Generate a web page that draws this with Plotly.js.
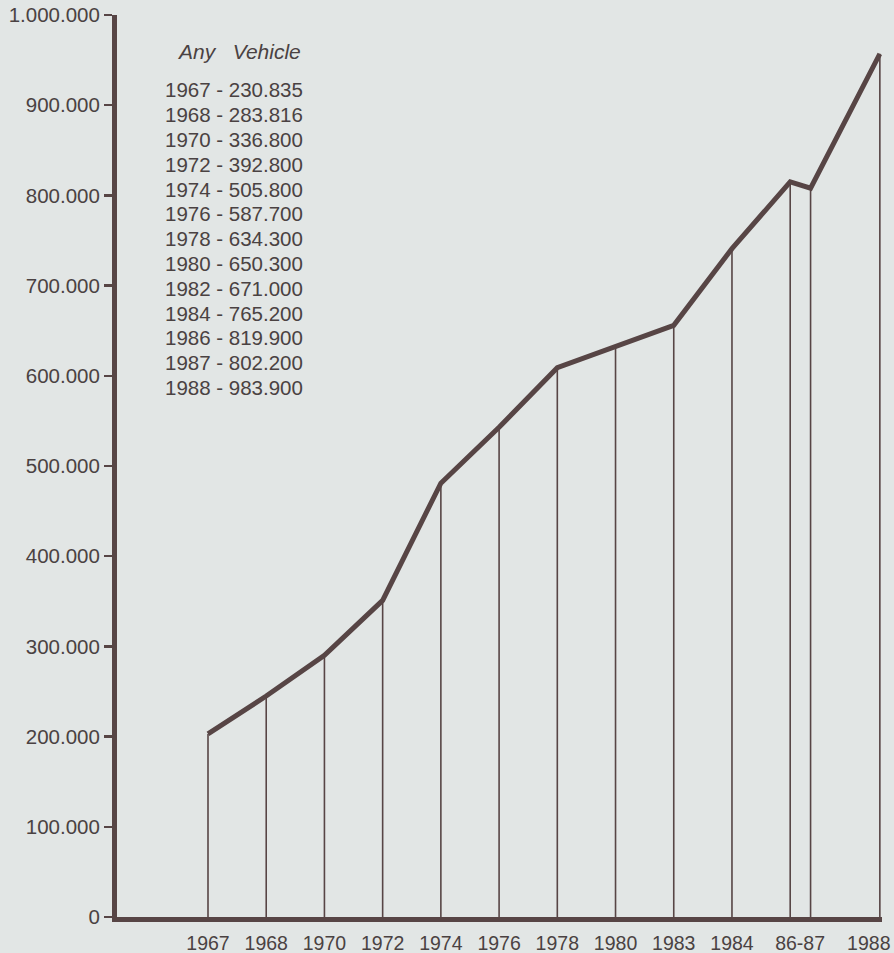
<!DOCTYPE html>
<html><head><meta charset="utf-8">
<script src="https://cdn.plot.ly/plotly-3.0.1.min.js"></script>
<style>html,body{margin:0;padding:0;background:#e2e6e5;}</style>
</head><body><div id="chart" style="width:894px;height:953px;"></div>
<script>
// ---- data ----
const categories = ['1967','1968','1970','1972','1974','1976','1978','1980','1983','1984','1986','1987','1988'];
const xPos = [0,1,2,3,4,5,6,7,8,9,10,10.35,11.54];
const vehicles = [203000,245000,290000,351000,481000,543000,609000,633000,656000,741000,815000,808000,957000];
const tickLabels = ['1967','1968','1970','1972','1974','1976','1978','1980','1983','1984','86-87','1988'];
const tickPos = [0,1,2,3,4,5,6,7,8,9,10.17,11.35];
const yTicks = [0,100000,200000,300000,400000,500000,600000,700000,800000,900000,1000000];
const legendTitle = 'Any\u00a0\u00a0\u00a0Vehicle';
const legendYears = ['1967','1968','1970','1972','1974','1976','1978','1980','1982','1984','1986','1987','1988'];
const legendValues = ['230.835','283.816','336.800','392.800','505.800','587.700','634.300','650.300','671.000','765.200','819.900','802.200','983.900'];

// ---- styles ----
const ink = '#574545';
const txt = '#4a4242';
const bg = '#e2e6e5';
const fontFam = '"Liberation Sans", Arial, Helvetica, sans-serif';

const dropX = [], dropY = [];
xPos.forEach((x, i) => { dropX.push(x, x, null); dropY.push(0, vehicles[i], null); });

const traces = [
  { type: 'scatter', mode: 'lines', x: dropX, y: dropY, line: {color: ink, width: 1.6}, hoverinfo: 'skip', showlegend: false },
  { type: 'scatter', mode: 'lines', x: xPos, y: vehicles, text: categories, line: {color: ink, width: 5}, showlegend: false }
];

// plot geometry for annotation placement
const H = 953, T = 15, B = 36, plotH = H - T - B;
const pixToPaper = p => (H - B - p) / plotH;
const L = 117, R = 12, plotW = 894 - L - R;
const pixXToPaper = p => (p - L) / plotW;

const annotations = [{
  text: legendTitle, xref: 'paper', yref: 'paper', x: pixXToPaper(239), y: pixToPaper(51),
  xanchor: 'center', yanchor: 'middle', showarrow: false,
  font: {family: fontFam, size: 21, color: txt, style: 'italic'}
}];
legendYears.forEach((yr, i) => {
  annotations.push({
    text: yr + ' - ' + legendValues[i], xref: 'paper', yref: 'paper',
    x: pixXToPaper(163), y: pixToPaper(90 + 24.8 * i), xanchor: 'left', yanchor: 'middle',
    showarrow: false, font: {family: fontFam, size: 20.5, color: txt}
  });
});

const layout = {
  width: 894, height: 953,
  margin: {l: L, r: R, t: T, b: B},
  paper_bgcolor: bg, plot_bgcolor: bg,
  separators: ',.',
  font: {family: fontFam, color: txt},
  xaxis: {
    range: [-1.563, 11.577], showgrid: false, zeroline: false,
    showline: true, linewidth: 5, linecolor: ink,
    tickmode: 'array', tickvals: tickPos, ticktext: tickLabels, ticks: '',
    ticklabelstandoff: 5,
    tickfont: {size: 19.5, color: txt}, fixedrange: true
  },
  yaxis: {
    range: [0, 1000000], showgrid: false, zeroline: false,
    showline: true, linewidth: 5, linecolor: ink,
    tickmode: 'array', tickvals: yTicks, tickformat: ',d',
    ticks: 'outside', ticklen: 8, tickwidth: 2.5, tickcolor: ink,
    tickfont: {size: 20.5, color: txt}, fixedrange: true
  },
  annotations: annotations,
  showlegend: false
};

Plotly.newPlot('chart', traces, layout, {displayModeBar: false, staticPlot: true});
</script></body></html>
